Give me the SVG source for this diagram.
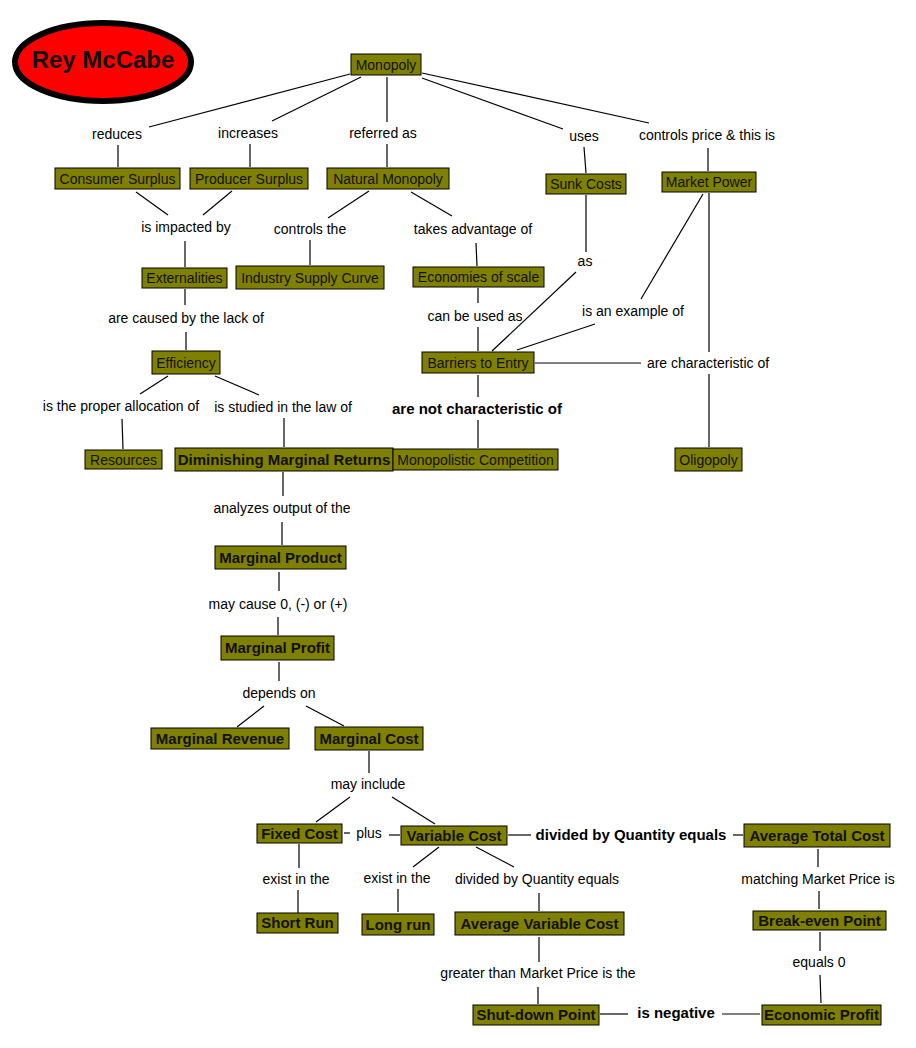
<svg xmlns="http://www.w3.org/2000/svg" width="916" height="1048" viewBox="0 0 916 1048">
<style>
.n rect{fill:#808000;stroke:#000;stroke-width:1}
.n text{font-family:"Liberation Sans",Arial,sans-serif;font-size:14px;fill:#111;text-anchor:middle}
.n text.b{font-weight:bold;font-size:15px}
.l{font-family:"Liberation Sans",Arial,sans-serif;font-size:14px;fill:#000;text-anchor:middle}
.lb{font-weight:bold;font-size:15px}
#edges line{stroke:#000;stroke-width:1.2}
</style>
<rect width="916" height="1048" fill="#fff"/>
<g id="edges">
<line x1="350" y1="74" x2="149" y2="127"/>
<line x1="118" y1="145" x2="118" y2="167"/>
<line x1="361" y1="77" x2="272" y2="121"/>
<line x1="250" y1="144" x2="250" y2="167"/>
<line x1="387" y1="77" x2="387" y2="122"/>
<line x1="387" y1="144" x2="387" y2="167"/>
<line x1="422" y1="78" x2="563" y2="129"/>
<line x1="422" y1="73" x2="649" y2="123"/>
<line x1="584" y1="147" x2="586" y2="173"/>
<line x1="708" y1="148" x2="708" y2="171"/>
<line x1="136" y1="192" x2="168" y2="215"/>
<line x1="232" y1="191" x2="203" y2="215"/>
<line x1="185" y1="241" x2="185" y2="267"/>
<line x1="369" y1="191" x2="328" y2="218"/>
<line x1="310" y1="240" x2="310" y2="265"/>
<line x1="411" y1="192" x2="452" y2="216"/>
<line x1="476" y1="243" x2="477" y2="266"/>
<line x1="185" y1="289" x2="185" y2="305"/>
<line x1="186" y1="332" x2="186" y2="350"/>
<line x1="168" y1="376" x2="140" y2="394"/>
<line x1="215" y1="376" x2="259" y2="395"/>
<line x1="122" y1="419" x2="123" y2="449"/>
<line x1="284" y1="418" x2="284" y2="447"/>
<line x1="283" y1="472" x2="283" y2="496"/>
<line x1="478" y1="288" x2="478" y2="303"/>
<line x1="478" y1="327" x2="478" y2="351"/>
<line x1="586" y1="195" x2="586" y2="252"/>
<line x1="576" y1="272" x2="492" y2="351"/>
<line x1="703" y1="194" x2="641" y2="299"/>
<line x1="595" y1="324" x2="517" y2="350"/>
<line x1="535" y1="363" x2="641" y2="363"/>
<line x1="709" y1="193" x2="709" y2="352"/>
<line x1="709" y1="374" x2="709" y2="447"/>
<line x1="478" y1="375" x2="478" y2="397"/>
<line x1="478" y1="420" x2="478" y2="448"/>
<line x1="282" y1="522" x2="282" y2="545"/>
<line x1="279" y1="572" x2="279" y2="591"/>
<line x1="278" y1="617" x2="278" y2="635"/>
<line x1="279" y1="662" x2="279" y2="681"/>
<line x1="264" y1="706" x2="237" y2="727"/>
<line x1="306" y1="706" x2="344" y2="726"/>
<line x1="369" y1="751" x2="369" y2="773"/>
<line x1="350" y1="797" x2="316" y2="822"/>
<line x1="392" y1="797" x2="435" y2="824"/>
<line x1="344" y1="833" x2="350" y2="833"/>
<line x1="389" y1="835" x2="400" y2="835"/>
<line x1="508" y1="835" x2="531" y2="835"/>
<line x1="733" y1="835" x2="743" y2="835"/>
<line x1="299" y1="844" x2="299" y2="868"/>
<line x1="298" y1="890" x2="298" y2="913"/>
<line x1="439" y1="847" x2="413" y2="867"/>
<line x1="398" y1="889" x2="398" y2="912"/>
<line x1="476" y1="847" x2="514" y2="867"/>
<line x1="539" y1="893" x2="539" y2="911"/>
<line x1="539" y1="937" x2="539" y2="962"/>
<line x1="538" y1="987" x2="538" y2="1004"/>
<line x1="600" y1="1014" x2="628" y2="1014"/>
<line x1="722" y1="1014" x2="760" y2="1014"/>
<line x1="818" y1="849" x2="818" y2="867"/>
<line x1="819" y1="891" x2="819" y2="909"/>
<line x1="820" y1="932" x2="820" y2="951"/>
<line x1="820" y1="975" x2="821" y2="1003"/>
</g>
<g id="labels">
<text class="l" x="117" y="139">reduces</text>
<text class="l" x="248" y="138">increases</text>
<text class="l" x="383" y="138">referred as</text>
<text class="l" x="584" y="141">uses</text>
<text class="l" x="707" y="140">controls price &amp; this is</text>
<text class="l" x="186" y="232">is impacted by</text>
<text class="l" x="310" y="234">controls the</text>
<text class="l" x="473" y="234">takes advantage of</text>
<text class="l" x="585" y="266">as</text>
<text class="l" x="186" y="323">are caused by the lack of</text>
<text class="l" x="475" y="321">can be used as</text>
<text class="l" x="633" y="316">is an example of</text>
<text class="l" x="708" y="368">are characteristic of</text>
<text class="l" x="121" y="411">is the proper allocation of</text>
<text class="l" x="283" y="412">is studied in the law of</text>
<text class="l lb" x="477" y="414">are not characteristic of</text>
<text class="l" x="282" y="513">analyzes output of the</text>
<text class="l" x="278" y="609">may cause 0, (-) or (+)</text>
<text class="l" x="279" y="698">depends on</text>
<text class="l" x="368" y="789">may include</text>
<text class="l" x="369" y="838">plus</text>
<text class="l lb" x="631" y="840">divided by Quantity equals</text>
<text class="l" x="296" y="884">exist in the</text>
<text class="l" x="397" y="883">exist in the</text>
<text class="l" x="537" y="884">divided by Quantity equals</text>
<text class="l" x="818" y="884">matching Market Price is</text>
<text class="l" x="538" y="978">greater than Market Price is the</text>
<text class="l" x="819" y="967">equals 0</text>
<text class="l lb" x="676" y="1018">is negative</text>
</g>
<g id="rey-mccabe">
<ellipse cx="103" cy="62" rx="88" ry="39" fill="#ff0000" stroke="#000" stroke-width="6"/>
<text x="103" y="68" font-family="'Liberation Sans',Arial,sans-serif" font-size="24" font-weight="bold" fill="#111" text-anchor="middle">Rey McCabe</text>
</g>
<g id="monopoly" class="n"><rect x="351" y="54" width="70" height="21"/><text x="386" y="69.5">Monopoly</text></g>
<g id="consumer-surplus" class="n"><rect x="55" y="168" width="125" height="21"/><text x="117.5" y="183.5">Consumer Surplus</text></g>
<g id="producer-surplus" class="n"><rect x="190" y="168" width="118" height="21"/><text x="249" y="183.5">Producer Surplus</text></g>
<g id="natural-monopoly" class="n"><rect x="327" y="168" width="122" height="21"/><text x="388" y="183.5">Natural Monopoly</text></g>
<g id="sunk-costs" class="n"><rect x="546" y="174" width="80" height="20"/><text x="586" y="189">Sunk Costs</text></g>
<g id="market-power" class="n"><rect x="662" y="172" width="94" height="20"/><text x="709" y="187">Market Power</text></g>
<g id="externalities" class="n"><rect x="142" y="268" width="85" height="20"/><text x="184.5" y="283">Externalities</text></g>
<g id="industry-supply-curve" class="n"><rect x="236" y="266" width="148" height="23"/><text x="310" y="282.5">Industry Supply Curve</text></g>
<g id="economies-of-scale" class="n"><rect x="413" y="267" width="131" height="20"/><text x="478.5" y="282">Economies of scale</text></g>
<g id="efficiency" class="n"><rect x="152" y="351" width="68" height="23"/><text x="186" y="367.5">Efficiency</text></g>
<g id="barriers-to-entry" class="n"><rect x="422" y="352" width="112" height="21"/><text x="478" y="367.5">Barriers to Entry</text></g>
<g id="resources" class="n"><rect x="85" y="450" width="77" height="19"/><text x="123.5" y="464.5">Resources</text></g>
<g id="diminishing-marginal-returns" class="n"><rect x="175" y="448" width="218" height="23"/><text class="b" x="284" y="465">Diminishing Marginal Returns</text></g>
<g id="monopolistic-competition" class="n"><rect x="393" y="449" width="165" height="21"/><text x="475.5" y="464.5">Monopolistic Competition</text></g>
<g id="oligopoly" class="n"><rect x="675" y="448" width="67" height="23"/><text x="708.5" y="464.5">Oligopoly</text></g>
<g id="marginal-product" class="n"><rect x="215" y="546" width="131" height="23"/><text class="b" x="280.5" y="562.5">Marginal Product</text></g>
<g id="marginal-profit" class="n"><rect x="221" y="636" width="113" height="24"/><text class="b" x="277.5" y="653">Marginal Profit</text></g>
<g id="marginal-revenue" class="n"><rect x="151" y="728" width="138" height="21"/><text class="b" x="220" y="743.5">Marginal Revenue</text></g>
<g id="marginal-cost" class="n"><rect x="315" y="727" width="108" height="23"/><text class="b" x="369" y="743.5">Marginal Cost</text></g>
<g id="fixed-cost" class="n"><rect x="257" y="824" width="85" height="19"/><text class="b" x="299.5" y="838.5">Fixed Cost</text></g>
<g id="variable-cost" class="n"><rect x="401" y="826" width="106" height="19"/><text class="b" x="454" y="840.5">Variable Cost</text></g>
<g id="average-total-cost" class="n"><rect x="744" y="824" width="146" height="23"/><text class="b" x="817" y="840.5">Average Total Cost</text></g>
<g id="short-run" class="n"><rect x="257" y="913" width="81" height="20"/><text class="b" x="297.5" y="928">Short Run</text></g>
<g id="long-run" class="n"><rect x="362" y="914" width="72" height="21"/><text class="b" x="398" y="929.5">Long run</text></g>
<g id="average-variable-cost" class="n"><rect x="455" y="912" width="169" height="23"/><text class="b" x="539.5" y="928.5">Average Variable Cost</text></g>
<g id="break-even-point" class="n"><rect x="753" y="911" width="133" height="19"/><text class="b" x="819.5" y="925.5">Break-even Point</text></g>
<g id="shut-down-point" class="n"><rect x="473" y="1005" width="126" height="20"/><text class="b" x="536" y="1020">Shut-down Point</text></g>
<g id="economic-profit" class="n"><rect x="762" y="1005" width="119" height="20"/><text class="b" x="821.5" y="1020">Economic Profit</text></g>
</svg>
